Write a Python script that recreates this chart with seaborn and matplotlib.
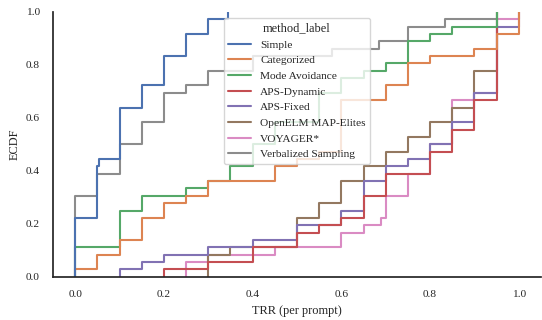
import numpy as np
import pandas as pd
import matplotlib.pyplot as plt
import seaborn as sns

methods = ["Simple", "Categorized", "Mode Avoidance", "APS-Dynamic", "APS-Fixed",
           "OpenELM MAP-Elites", "VOYAGER*", "Verbalized Sampling"]

simple_trr = [0.0, 0.05, 0.053, 0.1, 0.15, 0.2, 0.25, 0.3, 0.345]
simple_n = [8, 7, 1, 7, 3, 4, 3, 2, 1]

categorized_trr = [0.0, 0.05, 0.1, 0.15, 0.2, 0.25, 0.3, 0.45, 0.5, 0.55, 0.6, 0.7, 0.75, 0.8, 0.9, 0.95, 1.0]
categorized_n = [1, 2, 2, 3, 2, 1, 2, 2, 1, 1, 7, 2, 3, 1, 1, 2, 3]

mode_avoid_trr = [0.0, 0.1, 0.15, 0.25, 0.3, 0.35, 0.4, 0.45, 0.55, 0.6, 0.65, 0.7, 0.75, 0.8, 0.85, 0.95]
mode_avoid_n = [4, 5, 2, 1, 1, 2, 3, 3, 4, 2, 1, 1, 3, 1, 1, 2]

aps_dyn_trr = [0.2, 0.3, 0.4, 0.5, 0.55, 0.6, 0.65, 0.7, 0.8, 0.85, 0.9, 0.95]
aps_dyn_n = [1, 1, 2, 2, 1, 1, 3, 3, 3, 3, 4, 12]

aps_fixed_trr = [0.1, 0.15, 0.2, 0.3, 0.4, 0.5, 0.6, 0.65, 0.7, 0.75, 0.8, 0.85, 0.9, 0.95, 1.0]
aps_fixed_n = [1, 1, 1, 1, 1, 2, 2, 4, 2, 1, 2, 3, 4, 9, 2]

openelm_trr = [0.3, 0.35, 0.5, 0.55, 0.6, 0.65, 0.7, 0.75, 0.8, 0.85, 0.9, 0.95]
openelm_n = [3, 1, 4, 2, 3, 2, 2, 2, 2, 2, 5, 8]

voyager_trr = [0.25, 0.3, 0.45, 0.6, 0.65, 0.69, 0.7, 0.75, 0.8, 0.85, 0.9, 0.95, 1.0]
voyager_n = [2, 1, 1, 2, 1, 1, 3, 3, 4, 6, 1, 10, 1]

verbalized_trr = [0.0, 0.05, 0.1, 0.15, 0.2, 0.25, 0.3, 0.4, 0.58, 0.685, 0.75, 0.834, 0.95]
verbalized_n = [11, 3, 4, 3, 4, 1, 2, 2, 1, 1, 2, 1, 1]

pairs = [(simple_trr, simple_n), (categorized_trr, categorized_n), (mode_avoid_trr, mode_avoid_n),
         (aps_dyn_trr, aps_dyn_n), (aps_fixed_trr, aps_fixed_n), (openelm_trr, openelm_n),
         (voyager_trr, voyager_n), (verbalized_trr, verbalized_n)]

rows = []
for name, (vals, counts) in zip(methods, pairs):
    for v in np.repeat(vals, counts):
        rows.append({"method_label": name, "trr": v})
df = pd.DataFrame(rows)

sns.set_theme(style="white", font_scale=0.745)
plt.rcParams["font.family"] = ["Liberation Serif", "DejaVu Serif"]

fig, ax = plt.subplots(figsize=(5.42, 3.2), dpi=100)
sns.ecdfplot(data=df, x="trr", hue="method_label", hue_order=methods, ax=ax)
sns.despine()
sns.move_legend(ax, "upper center")
ax.set_xlabel("TRR (per prompt)")
ax.set_ylabel("ECDF")
ax.set_xticks([0.0, 0.2, 0.4, 0.6, 0.8, 1.0])
ax.set_yticks([0.0, 0.2, 0.4, 0.6, 0.8, 1.0])
fig.subplots_adjust(left=0.098, right=0.998, bottom=0.135, top=0.963)
plt.savefig("out.png")
plt.close()
